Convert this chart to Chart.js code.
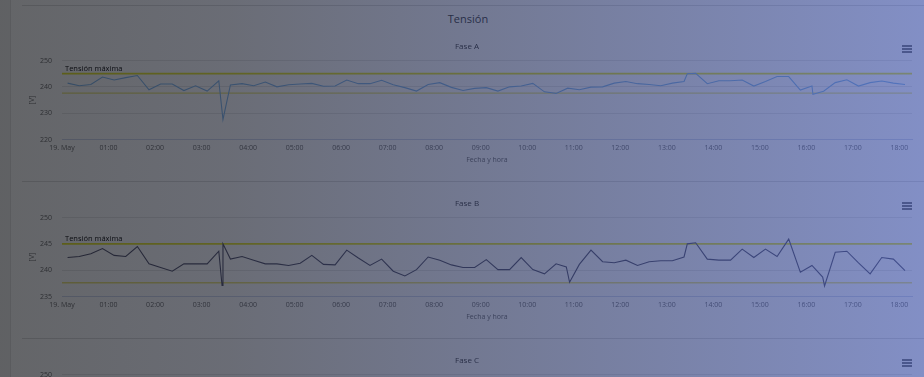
<!DOCTYPE html>
<html lang="es">
<head>
<meta charset="utf-8">
<title>Tensión</title>
<script src="https://cdn.jsdelivr.net/npm/chart.js@4.4.1/dist/chart.umd.min.js"></script>
<style>
    html, body { margin: 0; padding: 0; width: 924px; height: 377px; overflow: hidden; background: #fff; font-family: "Open Sans", sans-serif; }
    #lateral { position: absolute; left: 0; top: 0; width: 10px; height: 377px; background: #f3f3f3; border-right: 1px solid #e2e2e2; }
    .linea { position: absolute; left: 22px; width: 902px; height: 1px; background: #dadada; }
    #titulo { position: absolute; left: 22px; width: 892px; top: 10px; text-align: center; font-size: 11px; line-height: 18px; color: #333; }
    .grafica { position: absolute; left: 22px; }
    .menu { position: absolute; left: 902px; width: 10px; }
    .menu span { display: block; height: 1.5px; background: #666; margin-bottom: 1.5px; }
    #velo { position: absolute; left: 0; top: 0; width: 924px; height: 377px; pointer-events: none;
            background: linear-gradient(to right, rgba(12, 14, 18, 0.64), rgba(22, 26, 40, 0.64) 25%, rgba(60, 80, 165, 0.64)); }
</style>
</head>
<body>
<div id="lateral"></div>
<div class="linea" style="top:5px"></div>
<div id="titulo">Tensión</div>

<canvas id="faseA" class="grafica" width="902" height="157" style="top:24px"></canvas>
<div class="menu" style="top:45px"><span></span><span></span><span></span></div>
<div class="linea" style="top:181px"></div>
<canvas id="faseB" class="grafica" width="902" height="157" style="top:181px"></canvas>
<div class="menu" style="top:202px"><span></span><span></span><span></span></div>
<div class="linea" style="top:338px"></div>
<canvas id="faseC" class="grafica" width="902" height="157" style="top:338px"></canvas>
<div class="menu" style="top:359px"><span></span><span></span><span></span></div>

<div id="velo"></div>

<script>
    // Horas del eje X (0 = 19 de mayo 00:00) y sus etiquetas
    var horasEje = [0, 1, 2, 3, 4, 5, 6, 7, 8, 9, 10, 11, 12, 13, 14, 15, 16, 17, 18];
    var etiquetasEje = ["19. May", "01:00", "02:00", "03:00", "04:00", "05:00", "06:00", "07:00", "08:00",
        "09:00", "10:00", "11:00", "12:00", "13:00", "14:00", "15:00", "16:00", "17:00", "18:00"];

    // Limites de tension [V]
    var tensionMaxima = 245;
    var tensionMinima = 237.6;

    // Fase A: hora de cada lectura y tension
    var horasA = [0.12, 0.37, 0.62, 0.87, 1.12, 1.37, 1.62, 1.87, 2.12, 2.37, 2.62, 2.87, 3.12, 3.37, 3.46,
        3.62, 3.87, 4.12, 4.37, 4.62, 4.87, 5.12, 5.37, 5.62, 5.87, 6.12, 6.37, 6.62, 6.87, 7.12, 7.37, 7.62,
        7.87, 8.12, 8.37, 8.62, 8.87, 9.12, 9.37, 9.62, 9.87, 10.12, 10.37, 10.62, 10.87, 11.12, 11.37, 11.62,
        11.87, 12.12, 12.37, 12.62, 12.87, 13.12, 13.37, 13.44, 13.62, 13.87, 14.12, 14.37, 14.62, 14.87, 15.12,
        15.37, 15.62, 15.87, 16.12, 16.14, 16.37, 16.62, 16.87, 17.12, 17.37, 17.62, 17.87, 18.12];
    var tensionA = [241.4, 240.4, 240.9, 243.7, 242.6, 243.5, 244.3, 238.9, 241.1, 241.1, 238.6, 240.4, 238.4, 242.3, 227.6,
        240.7, 241.2, 240.4, 241.8, 240.0, 240.8, 241.1, 241.3, 240.2, 240.3, 242.6, 241.2, 241.2, 242.5, 240.8, 239.7, 238.4,
        240.9, 241.6, 239.8, 238.6, 239.4, 239.7, 238.4, 240.0, 240.3, 241.3, 238.1, 237.5, 239.5, 238.9, 239.9, 240.0,
        241.4, 242.0, 241.2, 240.9, 240.4, 241.4, 242.0, 245.0, 245.1, 241.2, 242.3, 242.3, 242.6, 240.3, 242.0,
        243.9, 243.9, 238.8, 240.3, 237.2, 238.3, 241.6, 242.7, 240.3, 241.6, 242.2, 241.4, 240.9];

    // Fase B
    var horasB = [0.12, 0.37, 0.62, 0.87, 1.12, 1.37, 1.62, 1.87, 2.12, 2.37, 2.62, 2.87, 3.12, 3.37, 3.44, 3.46,
        3.62, 3.87, 4.12, 4.37, 4.62, 4.87, 5.12, 5.37, 5.62, 5.87, 6.12, 6.37, 6.62, 6.87, 7.12, 7.37, 7.62,
        7.87, 8.12, 8.37, 8.62, 8.87, 9.12, 9.37, 9.62, 9.87, 10.12, 10.37, 10.62, 10.84, 10.91, 11.12, 11.37, 11.62,
        11.87, 12.12, 12.37, 12.62, 12.87, 13.12, 13.37, 13.44, 13.62, 13.87, 14.12, 14.37, 14.62, 14.87, 15.12,
        15.37, 15.62, 15.87, 16.12, 16.35, 16.39, 16.62, 16.87, 17.12, 17.37, 17.62, 17.87, 18.12];
    var tensionB = [242.4, 242.6, 243.1, 244.1, 242.8, 242.6, 244.5, 241.2, 240.5, 239.8, 241.2, 241.2, 241.2, 243.6, 237.1, 245.0,
        242.1, 242.6, 241.9, 241.2, 241.2, 240.9, 241.3, 242.8, 241.1, 241.0, 243.8, 242.3, 240.9, 242.1, 239.8, 238.9, 240.1,
        242.5, 241.9, 241.0, 240.5, 240.5, 242.0, 240.1, 240.1, 242.4, 240.1, 239.3, 241.2, 240.6, 237.7, 241.1, 243.8, 241.6,
        241.4, 241.9, 240.9, 241.6, 241.8, 241.8, 242.5, 245.0, 245.2, 242.1, 241.9, 241.9, 244.0, 242.4, 244.0,
        242.6, 245.9, 239.6, 240.9, 238.7, 237.0, 243.4, 243.6, 241.4, 239.3, 242.4, 242.1, 239.9];

    // Fase C: la serie queda fuera de la vista
    var horasC = [];
    var tensionC = [];

    // Lineas de tension maxima / minima
    var lineasLimite = {
        id: 'lineasLimite',
        beforeDatasetsDraw: function (chart) {
            var ctx = chart.ctx;
            var area = chart.chartArea;
            var y = chart.scales.y;
            var yMax = y.getPixelForValue(tensionMaxima);
            var yMin = y.getPixelForValue(tensionMinima);
            ctx.save();
            ctx.beginPath();
            ctx.rect(area.left, area.top - 1, area.right - area.left, area.bottom - area.top + 2);
            ctx.clip();
            ctx.lineWidth = 1.6;
            ctx.strokeStyle = '#e6e620';
            ctx.beginPath();
            ctx.moveTo(area.left, yMax);
            ctx.lineTo(area.right, yMax);
            ctx.stroke();
            ctx.lineWidth = 1.4;
            ctx.strokeStyle = 'rgba(225, 215, 60, 0.7)';
            ctx.beginPath();
            ctx.moveTo(area.left, yMin);
            ctx.lineTo(area.right, yMin);
            ctx.stroke();
            ctx.restore();
            ctx.save();
            ctx.fillStyle = '#000';
            ctx.font = '7.5px "Open Sans"';
            ctx.textBaseline = 'bottom';
            ctx.fillText('Tensión máxima', area.left + 3, yMax - 1.5);
            ctx.restore();
        }
    };

    function crearGrafica(id, titulo, horas, valores, color, yMin, yMax, paso) {
        var puntos = horas.map(function (h, i) { return { x: h, y: valores[i] }; });
        var config = {
            type: 'line',
            data: {
                datasets: [{
                    label: titulo,
                    data: puntos,
                    borderColor: color,
                    borderWidth: 1.1,
                    pointRadius: 0,
                    tension: 0,
                    fill: false
                }]
            },
            options: {
                responsive: false,
                animation: false,
                layout: { padding: { left: 0, right: 12, top: 0, bottom: 0 } },
                plugins: {
                    legend: { display: false },
                    tooltip: { enabled: false },
                    title: {
                        display: true,
                        text: titulo,
                        color: '#333333',
                        font: { family: 'Open Sans', size: 8, weight: 'normal', lineHeight: 1.2 },
                        padding: { top: 17.7, bottom: 9.2 }
                    }
                },
                scales: {
                    x: {
                        type: 'linear',
                        min: 0,
                        max: 18.27,
                        afterBuildTicks: function (scale) {
                            scale.ticks = horasEje.map(function (h) { return { value: h }; });
                        },
                        afterFit: function (scale) { scale.height = 41.5; },
                        grid: { drawOnChartArea: false, drawTicks: false },
                        border: { display: true, color: '#ccd6eb', width: 1 },
                        ticks: {
                            autoSkip: false,
                            maxRotation: 0,
                            padding: 4,
                            color: '#666666',
                            font: { family: 'Open Sans', size: 7 },
                            callback: function (valor) {
                                var i = horasEje.indexOf(valor);
                                return i >= 0 ? etiquetasEje[i] : '';
                            }
                        },
                        title: {
                            display: true,
                            text: 'Fecha y hora',
                            color: '#666666',
                            font: { family: 'Open Sans', size: 7 },
                            padding: { top: 0, bottom: 16.8 }
                        }
                    },
                    y: {
                        min: yMin,
                        max: yMax,
                        afterFit: function (scale) { scale.width = 40; },
                        grid: { color: '#e6e6e6', drawTicks: false },
                        border: { display: false },
                        ticks: {
                            stepSize: paso,
                            padding: 10,
                            color: '#666666',
                            font: { family: 'Open Sans', size: 7 }
                        },
                        title: {
                            display: true,
                            text: '[V]',
                            color: '#666666',
                            font: { family: 'Open Sans', size: 7 },
                            padding: { top: 5.5, bottom: 0 }
                        }
                    }
                }
            },
            plugins: [lineasLimite]
        };
        return new Chart(document.getElementById(id), config);
    }

    crearGrafica('faseA', 'Fase A', horasA, tensionA, '#7cb5ec', 220, 250, 10);
    crearGrafica('faseB', 'Fase B', horasB, tensionB, '#4c4c66', 235, 250, 5);
    crearGrafica('faseC', 'Fase C', horasC, tensionC, '#90ed7d', 235, 250, 5);
</script>
</body>
</html>
